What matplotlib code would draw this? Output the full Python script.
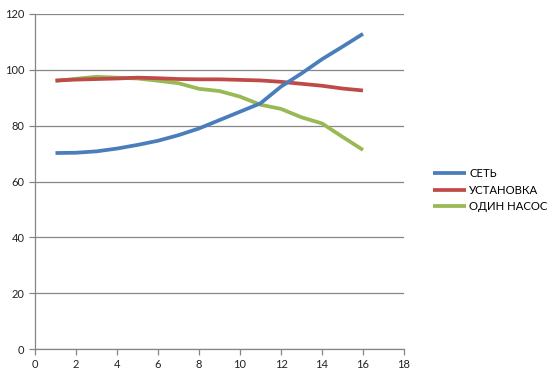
import matplotlib
matplotlib.use("Agg")
import matplotlib.pyplot as plt

x = list(range(1, 17))
set_net = [70.2, 70.3, 70.8, 71.8, 73.1, 74.6, 76.6, 79.0, 82.0, 85.0, 88.0, 94.0, 98.7, 103.8, 108.3, 112.9]
ustanovka = [96.2, 96.5, 96.7, 96.9, 97.2, 97.0, 96.7, 96.6, 96.6, 96.4, 96.2, 95.7, 95.0, 94.3, 93.3, 92.6]
odin_nasos = [96.0, 96.8, 97.5, 97.2, 96.9, 96.1, 95.2, 93.2, 92.4, 90.4, 87.5, 86.0, 83.0, 80.8, 76.0, 71.3]
series_names = ["СЕТЬ", "УСТАНОВКА", "ОДИН НАСОС"]
colors = ["#4A7EBB", "#BE4B48", "#98B954"]

plt.rcParams["font.family"] = ["Lato", "DejaVu Sans"]

fig = plt.figure(figsize=(5.55, 3.79), dpi=100)
ax = fig.add_axes([35 / 555, 30 / 379, 369 / 555, 335 / 379])

lines = {}
for name, ys, col, z in zip(series_names, [set_net, ustanovka, odin_nasos], colors, [4, 3, 2]):
    lines[name], = ax.plot(x, ys, color=col, lw=2.7, solid_capstyle="butt",
                           solid_joinstyle="round", zorder=z, label=name)

ax.set_xlim(0, 18)
ax.set_ylim(0, 120)
ax.set_xticks(range(0, 19, 2))
ax.set_yticks(range(0, 121, 20))
ax.grid(axis="y", color="#868686", lw=0.9)
ax.set_axisbelow(True)
for s in ("top", "right"):
    ax.spines[s].set_visible(False)
for s in ("left", "bottom"):
    ax.spines[s].set_color("#868686")
    ax.spines[s].set_linewidth(0.9)
ax.tick_params(colors="#868686", labelcolor="#222222", labelsize=8, length=4, width=0.9)

ax.legend([lines[n] for n in series_names], series_names, loc="center left",
          bbox_to_anchor=(428 / 555, 189 / 379), bbox_transform=fig.transFigure,
          frameon=False, fontsize=8.2, handlelength=2.9, handletextpad=0.3,
          labelspacing=0.45, borderaxespad=0)

fig.savefig("out.png", dpi=100)
